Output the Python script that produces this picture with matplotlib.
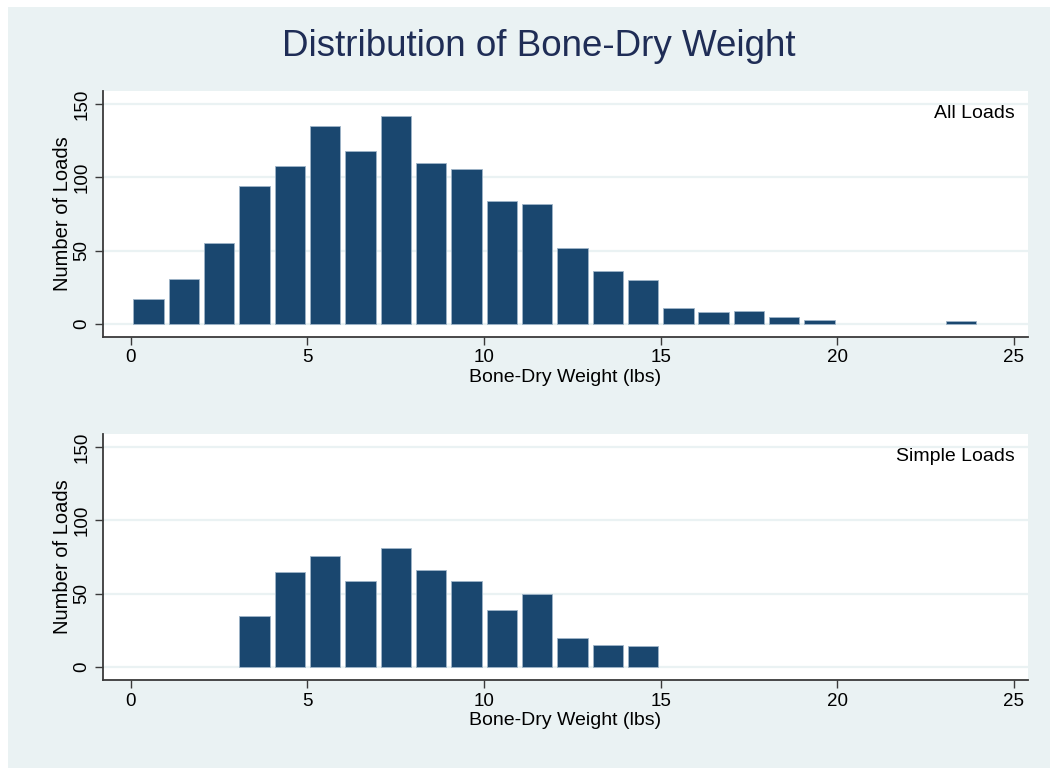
import numpy as np
import matplotlib
matplotlib.use("Agg")
import matplotlib.pyplot as plt
from matplotlib.patches import Rectangle

# bin left edges (lbs), width 1
bins = np.arange(0, 24)
all_loads = [17, 31, 55, 94, 108, 135, 118, 142, 110, 106, 84, 82,
             52, 36, 30, 11, 8, 9, 5, 3, 0, 0, 0, 2]
simple_loads = [0, 0, 0, 35, 65, 76, 59, 81, 66, 59, 39, 50,
                20, 15, 14, 0, 0, 0, 0, 0, 0, 0, 0, 0]
panel_labels = ["All Loads", "Simple Loads"]

bg = "#eaf2f3"
bar_color = "#1a476f"
plt.rcParams["font.family"] = ["Liberation Sans", "DejaVu Sans"]

W, H = 1050, 770
fig = plt.figure(figsize=(W / 100, H / 100), dpi=100, facecolor="white")
fig.patches.append(Rectangle((8 / W, 2 / H), 1 - 8 / W, 1 - 9 / H,
                             transform=fig.transFigure, facecolor=bg,
                             edgecolor="none", zorder=-10))

fig.text(539 / W, 1 - 46 / H, "Distribution of Bone-Dry Weight",
         ha="center", va="center", fontsize=26.5, color="#1f2d56")

# axes boxes in pixels: left, top, right, bottom
boxes = [(103, 91, 1028, 337), (103, 434, 1028, 680)]
for (l, t, r, b), counts, lab in zip(boxes, [all_loads, simple_loads], panel_labels):
    ax = fig.add_axes([l / W, 1 - b / H, (r - l) / W, (b - t) / H])
    ax.set_facecolor("white")
    counts = np.array(counts)
    keep = counts > 0
    ax.bar(bins[keep] + 0.5, counts[keep], width=0.86, color=bar_color,
           edgecolor="#9fb5c8", linewidth=0.6, zorder=3)
    ax.set_xlim(-0.79, 25.4)
    ax.set_ylim(-8.9, 159)
    ax.set_xticks([0, 5, 10, 15, 20, 25])
    ax.set_yticks([0, 50, 100, 150])
    ax.set_yticklabels(["0", "50", "100", "150"], rotation=90, va="center")
    ax.grid(axis="y", color=bg, linewidth=1.6, zorder=0)
    for s in ["top", "right"]:
        ax.spines[s].set_visible(False)
    for s in ["left", "bottom"]:
        ax.spines[s].set_color("#3a3a3a")
        ax.spines[s].set_linewidth(1.3)
    ax.tick_params(length=6, width=1.0, color="#3a3a3a", labelsize=13.5,
                   labelcolor="black", pad=3)
    ax.set_xlabel("Bone-Dry Weight (lbs)", fontsize=14, labelpad=2)
    ax.set_ylabel("Number of Loads", fontsize=14.5, labelpad=1)
    ax.text(0.986, 0.91, lab, transform=ax.transAxes, ha="right", va="center",
            fontsize=14)

fig.savefig("out.png", dpi=100, facecolor="white")
